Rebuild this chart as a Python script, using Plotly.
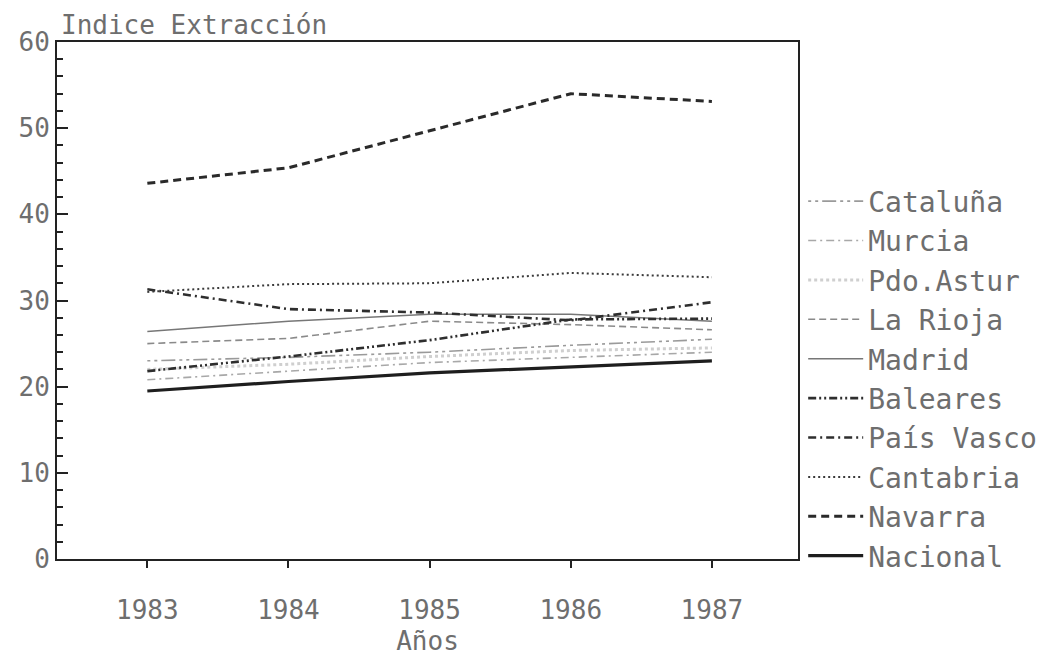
import plotly.graph_objects as go

years = [1983, 1984, 1985, 1986, 1987]

cataluna = [23.0, 23.4, 24.0, 24.8, 25.5]
murcia = [20.8, 21.8, 22.8, 23.4, 24.0]
pdo_astur = [22.0, 22.6, 23.5, 24.2, 24.5]
la_rioja = [25.0, 25.6, 27.6, 27.2, 26.6]
madrid = [26.4, 27.6, 28.4, 28.4, 27.6]
baleares = [21.8, 23.5, 25.4, 27.8, 27.9]
pais_vasco = [31.3, 29.0, 28.6, 27.7, 29.8]
cantabria = [31.0, 31.9, 32.0, 33.2, 32.7]
navarra = [43.6, 45.4, 49.7, 54.0, 53.1]
nacional = [19.5, 20.6, 21.6, 22.3, 23.0]

series = [
    ("Cataluña", cataluna, "#9a9a9a", 1.6, "3px,4px,3px,4px,14px,4px"),
    ("Murcia", murcia, "#a8a8a8", 1.6, "8px,4px,2px,4px"),
    ("Pdo.Astur", pdo_astur, "#cfcfcf", 3.0, "3px,3px"),
    ("La Rioja", la_rioja, "#8a8a8a", 1.6, "7px,4px"),
    ("Madrid", madrid, "#777777", 1.5, "solid"),
    ("Baleares", baleares, "#2e2e2e", 2.6, "8px,3px,2px,3px,2px,3px"),
    ("País Vasco", pais_vasco, "#2e2e2e", 2.6, "8px,4px,2px,4px"),
    ("Cantabria", cantabria, "#3a3a3a", 2.0, "2px,3px"),
    ("Navarra", navarra, "#2a2a2a", 3.0, "8px,5px"),
    ("Nacional", nacional, "#1e1e1e", 3.2, "solid"),
]

FONT = "DejaVu Sans Mono"
TXT = "#6e6e6e"

fig = go.Figure()
for i, (name, vals, color, width, dash) in enumerate(series):
    fig.add_trace(go.Scatter(
        x=years, y=vals, name=name, mode="lines",
        legendgroup=f"g{i}",
        line=dict(color=color, width=width, dash=dash),
    ))

fig.update_layout(
    width=1047, height=655,
    margin=dict(l=49, r=257, t=34, b=104, autoexpand=False),
    plot_bgcolor="white", paper_bgcolor="white",
    font=dict(family=FONT, size=26, color=TXT),
    showlegend=True,
    legend=dict(
        x=1.007, xanchor="left", y=0.74, yanchor="top",
        traceorder="normal", tracegroupgap=5,
        font=dict(family=FONT, size=28, color=TXT),
        bgcolor="rgba(0,0,0,0)", itemwidth=55,
    ),
    annotations=[dict(
        text="Indice Extracción", xref="paper", yref="paper",
        x=0.003, y=1.0, xanchor="left", yanchor="bottom",
        showarrow=False, font=dict(family=FONT, size=26, color=TXT),
    )],
)

fig.update_xaxes(
    automargin=False,
    range=[1982.36, 1987.61],
    tickmode="array", tickvals=years, ticktext=[str(y) for y in years],
    ticks="outside", ticklen=7, tickcolor="#222", tickwidth=1.5,
    ticklabelstandoff=20,
    showline=True, linecolor="#222", linewidth=2, mirror=True,
    showgrid=False, zeroline=False,
    title=dict(text="Años", standoff=8, font=dict(family=FONT, size=26, color=TXT)),
)
fig.update_yaxes(
    automargin=False,
    range=[0, 60],
    tickmode="array", tickvals=[0, 10, 20, 30, 40, 50, 60],
    ticks="inside", ticklen=11, tickcolor="#222", tickwidth=1.5,
    minor=dict(tickmode="array", tickvals=[v for v in range(2, 60, 2) if v % 10], ticks="inside", ticklen=6, tickcolor="#222"),
    showline=True, linecolor="#222", linewidth=2, mirror=True,
    showgrid=False, zeroline=False,
)

fig.write_html("out.html")
